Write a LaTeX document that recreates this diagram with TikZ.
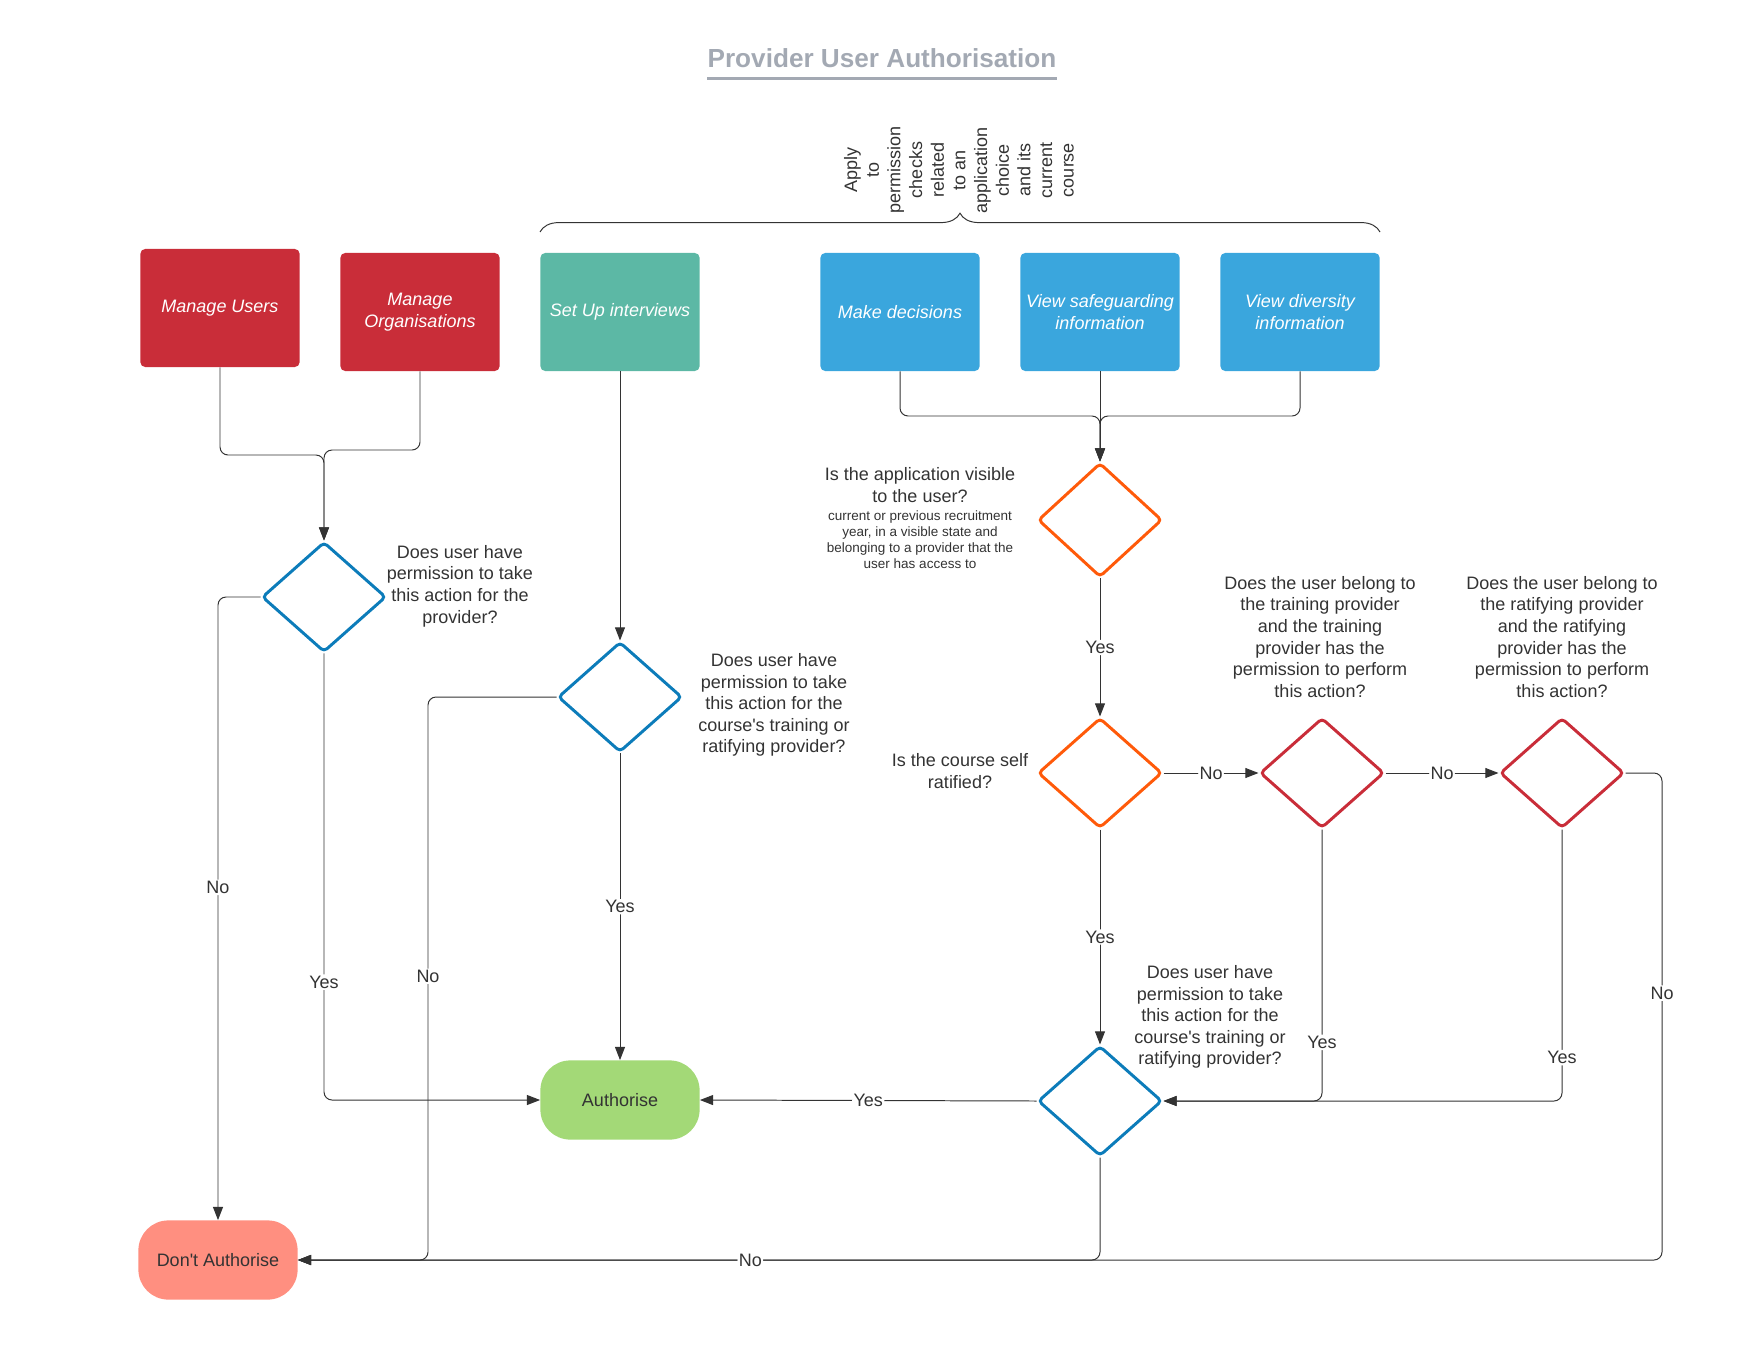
\documentclass[tikz,border=0pt]{standalone}
\usepackage{fontspec}
\setmainfont{Liberation Sans}
\usetikzlibrary{shapes.geometric,arrows.meta,decorations.pathreplacing}

\definecolor{manage}{HTML}{C92D39}
\definecolor{interview}{HTML}{5CB8A5}
\definecolor{actionblue}{HTML}{3AA6DD}
\definecolor{checkblue}{HTML}{0C7CBA}
\definecolor{checkorange}{HTML}{FF5A0A}
\definecolor{checkred}{HTML}{C92D39}
\definecolor{yesgreen}{HTML}{A3D977}
\definecolor{nosalmon}{HTML}{FF8F80}
\definecolor{ink}{HTML}{333333}
\definecolor{titlegray}{HTML}{A3A9B3}

\newcommand{\bodyfont}{\fontsize{12.8pt}{15.4pt}\selectfont}
\newcommand{\notefont}{\fontsize{9.6pt}{11.4pt}\selectfont}

\begin{document}
\begin{tikzpicture}[x=0.025cm, y=-0.025cm,
    font=\bodyfont, text=ink,
    action/.style = {rectangle, rounded corners=0.12cm,
        minimum width=3.98cm, minimum height=2.95cm,
        text=white, align=center, font=\bodyfont\itshape},
    check/.style = {diamond, draw, line width=2.1pt,
        rounded corners=0.1cm, inner sep=0pt,
        minimum width=3.1cm, minimum height=2.75cm},
    result/.style = {rectangle, rounded corners=0.75cm,
        minimum width=3.98cm, minimum height=1.98cm},
    question/.style = {align=center},
    conn/.style = {draw=ink, line width=0.7pt, rounded corners=0.2cm,
        -{Triangle[length=0.33cm,width=0.25cm]}},
    lbl/.style = {fill=white, inner sep=1pt}]

\useasboundingbox (0,0) rectangle (1760,1360);

% Title
\node[font=\fontsize{18.6pt}{22pt}\selectfont\bfseries, text=titlegray,
    inner sep=0pt] (title) at (882,58) {Provider User Authorisation};
\draw[titlegray, line width=2.1pt] ([yshift=-0.27cm]title.south west)
    -- ([yshift=-0.27cm]title.south east);

% Brace over the application actions
\draw[ink, line width=0.7pt, decorate,
    decoration={brace, amplitude=0.47cm}] (540,232) -- (1380,232);
\node[rotate=90, align=center] (applynote) at (959,170)
    {Apply\\to\\permission\\checks\\related\\to an\\application\\choice\\and its\\current\\course};

% Actions
\node[action, fill=manage] (MU) at (220,308) {Manage Users};
\node[action, fill=manage] (MO) at (420,312) {Manage\\Organisations};
\node[action, fill=interview] (SU) at (620,312) {Set Up interviews};
\node[action, fill=actionblue] (MD) at (900,312) {Make decisions};
\node[action, fill=actionblue] (VS) at (1100,312) {View safeguarding\\information};
\node[action, fill=actionblue] (VD) at (1300,312) {View diversity\\information};

% Checks
\node[check, draw=checkblue] (D1) at (324,597) {};
\node[check, draw=checkblue] (D2) at (620,697) {};
\node[check, draw=checkorange, minimum height=2.85cm] (O1) at (1100,520) {};
\node[check, draw=checkorange] (O2) at (1100,773) {};
\node[check, draw=checkred] (R1) at (1322,773) {};
\node[check, draw=checkred] (R2) at (1562,773) {};
\node[check, draw=checkblue] (D3) at (1100,1101) {};

% Outcomes
\node[result, fill=yesgreen] (AU) at (620,1100) {Authorise};
\node[result, fill=nosalmon] (DA) at (218,1260) {Don\textquotesingle t Authorise};

% Questions
\node[question] (q1) at (460,586)
    {Does user have\\permission to take\\this action for the\\provider?};
\node[question] (q2) at (774,705)
    {Does user have\\permission to take\\this action for the\\course\textquotesingle s training or\\ratifying provider?};
\node[question] (q3) at (920,485) {Is the application visible\\to the user?};
\node[question, font=\notefont] (q3note) at (920,540)
    {current or previous recruitment\\year, in a visible state and\\belonging to a provider that the\\user has access to};
\node[question] (q4) at (960,771) {Is the course self\\ratified?};
\node[question] (q5) at (1320,637)
    {Does the user belong to\\the training provider\\and the training\\provider has the\\permission to perform\\this action?};
\node[question] (q6) at (1562,637)
    {Does the user belong to\\the ratifying provider\\and the ratifying\\provider has the\\permission to perform\\this action?};
\node[question] (q7) at (1210,1017)
    {Does user have\\permission to take\\this action for the\\course\textquotesingle s training or\\ratifying provider?};

% Joins
\coordinate (muj) at (324,455);
\coordinate (moj) at (324,450);
\coordinate (aj) at (1100,416);
\coordinate (nj) at (428,1260);
\coordinate (rj) at (1662,1260);

% Connectors
\draw[conn] (MU.south) |- (muj) -- (D1.north);
\draw[conn] (MO.south) |- (moj) -- (D1.north);
\draw[conn] (MD.south) |- (aj) -- (O1.north);
\draw[conn] (VD.south) |- (aj) -- (O1.north);
\draw[conn] (VS.south) -- (O1.north);
\draw[conn] (SU.south) -- (D2.north);

\draw[conn] (D1.west) -| node[lbl, pos=0.733] {No} (DA.north);
\draw[conn] (D1.south) |- node[lbl, pos=0.368] {Yes} (AU.west);
\draw[conn] (D2.west) -| node[lbl, pos=0.748] {No} (nj) -- (DA.east);
\draw[conn] (D2.south) -- node[lbl] {Yes} (AU.north);

\draw[conn] (O1.south) -- node[lbl] {Yes} (O2.north);
\draw[conn] (O2.east) -- node[lbl] {No} (R1.west);
\draw[conn] (R1.east) -- node[lbl] {No} (R2.west);
\draw[conn] (R2.east) -| node[lbl, pos=0.726] {No} (rj) -- (DA.east);
\draw[conn] (O2.south) -- node[lbl] {Yes} (D3.north);
\draw[conn] (R1.south) |- node[lbl, pos=0.392] {Yes} (D3.east);
\draw[conn] (R2.south) |- node[lbl, pos=0.42] {Yes} (D3.east);
\draw[conn] (D3.west) -- node[lbl] {Yes} (AU.east);
\draw[conn] (D3.south) |- node[lbl, pos=0.718] {No} (DA.east);
\end{tikzpicture}
\end{document}
